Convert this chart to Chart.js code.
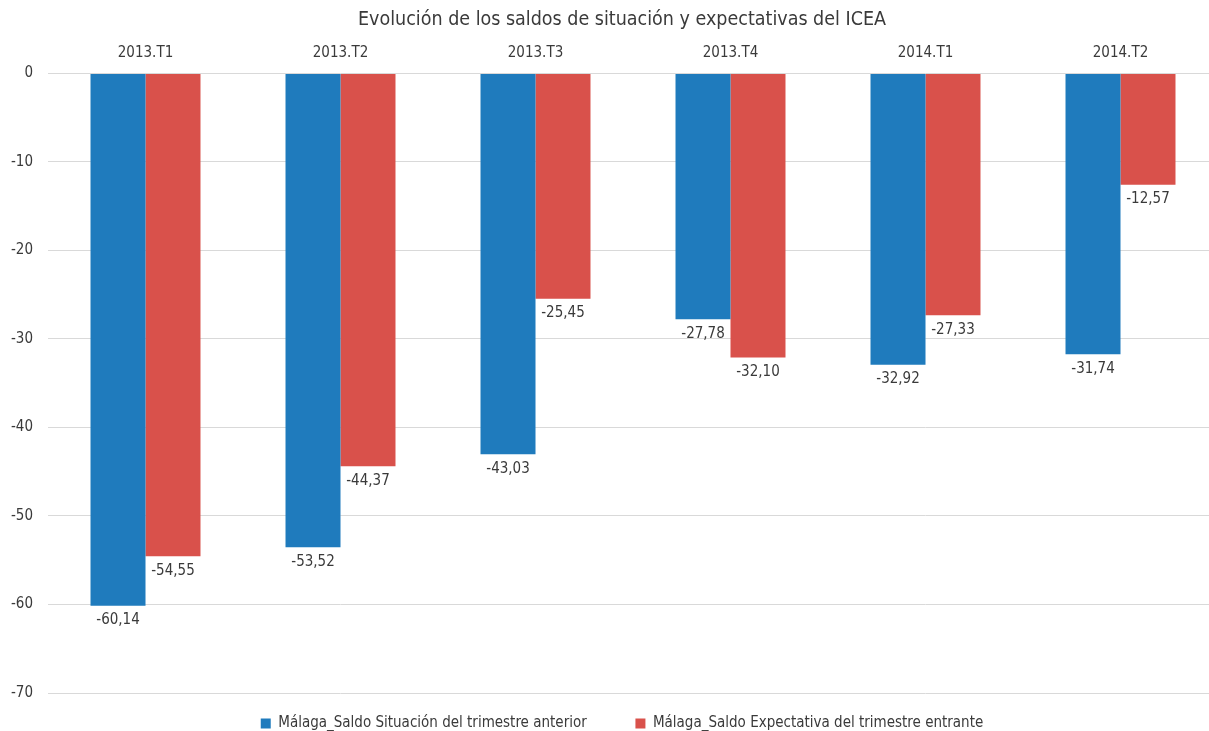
<!DOCTYPE html>
<html>
<head>
<meta charset="utf-8">
<script src="https://cdn.jsdelivr.net/npm/chart.js@4.4.0/dist/chart.umd.min.js"></script>
<style>
  html, body { margin: 0; padding: 0; background: #fff; overflow: hidden; }
  #wrap { width: 1209px; height: 731px; overflow: hidden; }
</style>
</head>
<body>
<div id="wrap"><canvas id="barChart" width="1218" height="731"></canvas></div>
<script>
const categories = ["2013.T1", "2013.T2", "2013.T3", "2013.T4", "2014.T1", "2014.T2"];
const situacion = [-60.14, -53.52, -43.03, -27.78, -32.92, -31.74];
const expectativa = [-54.55, -44.37, -25.45, -32.10, -27.33, -12.57];
const yTicks = [0, -10, -20, -30, -40, -50, -60, -70];

const fontFamily = "'Liberation Sans Narrow', 'DejaVu Sans Condensed', 'Roboto', sans-serif";
const textColor = '#3a3a3a';

// etiquetas de valor debajo de cada barra
const valueLabels = {
    id: 'valueLabels',
    afterDatasetsDraw(chart) {
        const ctx = chart.ctx;
        ctx.save();
        ctx.font = '15px ' + fontFamily;
        ctx.fillStyle = textColor;
        ctx.textAlign = 'center';
        ctx.textBaseline = 'top';
        chart.data.datasets.forEach((ds, i) => {
            const meta = chart.getDatasetMeta(i);
            meta.data.forEach((bar, j) => {
                const txt = ds.data[j].toFixed(2).replace('.', ',');
                ctx.fillText(txt, bar.x, bar.y + 7);
            });
        });
        ctx.restore();
    }
};

window.addEventListener("load", (event) => {
    const ctxB = document.getElementById("barChart").getContext('2d');
    const myBarChart = new Chart(ctxB, {
        type: 'bar',
        data: {
            labels: categories,
            datasets: [
                {
                    label: 'Málaga_Saldo Situación del trimestre anterior',
                    data: situacion,
                    backgroundColor: '#1f7bbd',
                    categoryPercentage: 0.564,
                    barPercentage: 1.0
                },
                {
                    label: 'Málaga_Saldo Expectativa del trimestre entrante',
                    data: expectativa,
                    backgroundColor: '#d9514b',
                    categoryPercentage: 0.564,
                    barPercentage: 1.0
                }
            ]
        },
        options: {
            responsive: false,
            animation: false,
            layout: { padding: { left: 26, right: 0, top: 0, bottom: -10 } },
            plugins: {
                title: {
                    display: true,
                    text: 'Evolución de los saldos de situación y expectativas del ICEA',
                    color: textColor,
                    font: { family: fontFamily, size: 19.5, weight: 'normal' },
                    padding: { top: 8, bottom: 10 }
                },
                legend: {
                    position: 'bottom',
                    labels: {
                        color: textColor,
                        font: { family: fontFamily, size: 15 },
                        boxWidth: 10,
                        boxHeight: 10,
                        padding: 23,
                        // separación entre las dos entradas
                        generateLabels: (chart) => {
                            const items = Chart.defaults.plugins.legend.labels.generateLabels(chart);
                            if (items.length) items[0].text = items[0].text + '      ';
                            return items;
                        }
                    }
                },
                tooltip: { enabled: false }
            },
            scales: {
                x: {
                    position: 'top',
                    grid: { display: false },
                    border: { display: false },
                    ticks: { color: textColor, font: { family: fontFamily, size: 15 }, padding: 3 }
                },
                y: {
                    min: -70,
                    max: 0,
                    afterBuildTicks: (axis) => { axis.ticks = yTicks.map(v => ({ value: v })); },
                    afterFit: (axis) => { axis.width = 22; },
                    grid: { color: '#d9d9d9', drawTicks: false },
                    border: { display: false },
                    // etiquetas fuera de la caja del eje, alineadas a la derecha
                    ticks: { color: textColor, font: { family: fontFamily, size: 15 }, mirror: true, crossAlign: 'far', padding: -37 }
                }
            }
        },
        plugins: [valueLabels]
    });
});
</script>
</body>
</html>
